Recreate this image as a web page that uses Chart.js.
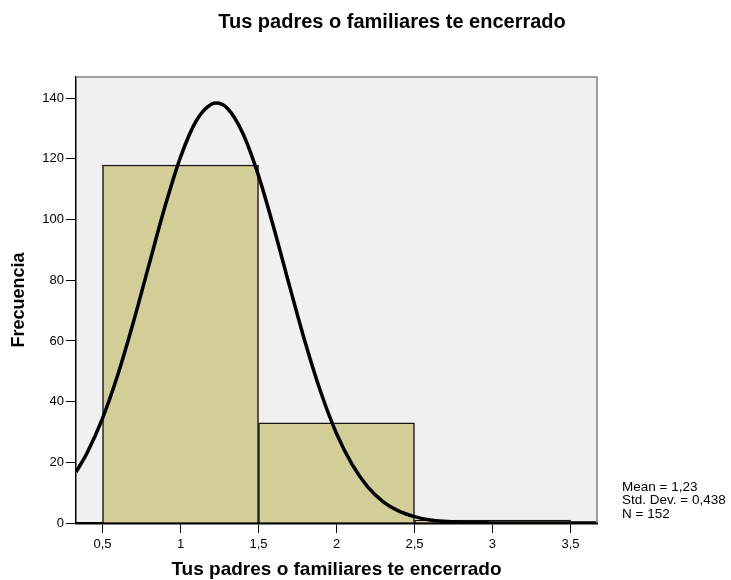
<!DOCTYPE html>
<html lang="es">
<head>
  <meta charset="UTF-8">
  <title>Tus padres o familiares te encerrado</title>
  <script src="https://cdn.jsdelivr.net/npm/chart.js"></script>
  <style>
    body {
      margin: 0;
      background-color: #ffffff;
    }
    #chart-box {
      width: 731px;
      height: 580px;
    }
  </style>
</head>
<body>
  <div id="chart-box">
    <canvas id="histogram" width="731" height="580"></canvas>
  </div>

  <script>
    // histograma: centros de clase y frecuencias
    const binCenters = [1, 2, 3];
    const binCounts = [118, 33, 1];

    // curva normal
    const curveX = [0.33, 0.4, 0.5, 0.6, 0.7, 0.8, 0.9, 1.0, 1.1, 1.2, 1.23, 1.3, 1.4, 1.5, 1.6, 1.7, 1.8, 1.9, 2.0, 2.1, 2.2, 2.3, 2.4, 2.5, 2.6, 2.8, 3.0, 3.3, 3.67];
    const curveY = [16.8, 23.0, 34.5, 49.2, 66.6, 85.5, 104.2, 120.6, 132.5, 138.1, 138.4, 136.7, 128.4, 114.5, 96.9, 77.9, 59.4, 43.0, 29.5, 19.3, 11.9, 7.0, 3.9, 2.1, 1.0, 0.2, 0.04, 0, 0];

    const xTickValues = [0.5, 1, 1.5, 2, 2.5, 3, 3.5];
    const xTickLabels = ['0,5', '1', '1,5', '2', '2,5', '3', '3,5'];
    const yTickValues = [0, 20, 40, 60, 80, 100, 120, 140];

    const chartTitle = 'Tus padres o familiares te encerrado';
    const xTitle = 'Tus padres o familiares te encerrado';
    const yTitle = 'Frecuencia';
    const statsLines = ['Mean = 1,23', 'Std. Dev. = 0,438', 'N = 152'];

    const FONT = "Arial, 'Liberation Sans', sans-serif";
    Chart.defaults.font.family = FONT;
    Chart.defaults.color = '#000';

    // fondo gris del área, marco superior/derecho, título y estadísticos
    const plotFrame = {
      id: 'plotFrame',
      beforeDraw(chart) {
        const { ctx, chartArea: a } = chart;
        ctx.save();
        ctx.fillStyle = '#f0f0f0';
        ctx.fillRect(a.left, a.top, a.right - a.left, a.bottom - a.top);
        ctx.restore();
      },
      afterDraw(chart) {
        const { ctx, chartArea: a } = chart;
        ctx.save();
        ctx.strokeStyle = '#808080';
        ctx.lineWidth = 1.5;
        ctx.beginPath();
        ctx.moveTo(a.left, a.top);
        ctx.lineTo(a.right, a.top);
        ctx.lineTo(a.right, a.bottom);
        ctx.stroke();

        ctx.fillStyle = '#000';
        ctx.font = 'bold 20px ' + FONT;
        ctx.textAlign = 'center';
        ctx.textBaseline = 'alphabetic';
        ctx.fillText(chartTitle, 392, 28);

        ctx.font = '13.5px ' + FONT;
        ctx.textAlign = 'left';
        ctx.textBaseline = 'middle';
        statsLines.forEach((line, i) => {
          ctx.fillText(line, 622, 487 + i * 13.5);
        });
        ctx.restore();
      }
    };

    new Chart(document.getElementById('histogram'), {
      type: 'bar',
      data: {
        datasets: [
          {
            type: 'line',
            data: curveX.map((x, i) => ({ x: x, y: curveY[i] })),
            borderColor: '#000',
            borderWidth: 3.5,
            pointRadius: 0,
            fill: false,
            cubicInterpolationMode: 'monotone',
            order: 0
          },
          {
            type: 'bar',
            data: binCenters.map((c, i) => ({ x: c, y: binCounts[i] })),
            backgroundColor: '#d3ce98',
            borderColor: '#141414',
            borderWidth: 1.5,
            barThickness: 'flex',
            barPercentage: 1,
            categoryPercentage: 1,
            order: 1
          }
        ]
      },
      options: {
        responsive: false,
        animation: false,
        layout: {
          padding: { left: 0, right: 134, top: 77, bottom: 0 }
        },
        plugins: {
          legend: { display: false },
          tooltip: { enabled: false },
          title: { display: false }
        },
        scales: {
          x: {
            type: 'linear',
            min: 0.33,
            max: 3.67,
            offset: false,
            afterBuildTicks: scale => {
              scale.ticks = xTickValues.map(v => ({ value: v }));
            },
            afterFit: scale => {
              scale.height = 57;
            },
            ticks: {
              autoSkip: false,
              maxRotation: 0,
              padding: 4,
              font: { size: 13 },
              callback: (value, index) => xTickLabels[index]
            },
            grid: {
              offset: false,
              drawOnChartArea: false,
              drawTicks: true,
              tickLength: 10,
              color: '#000',
              tickColor: '#000'
            },
            border: { display: true, color: '#000', width: 2.5 },
            title: {
              display: true,
              text: xTitle,
              font: { size: 19, weight: 'bold', lineHeight: 1.0 },
              padding: { top: 0, bottom: 1 }
            }
          },
          y: {
            min: 0,
            max: 147,
            afterBuildTicks: scale => {
              scale.ticks = yTickValues.map(v => ({ value: v }));
            },
            afterFit: scale => {
              scale.width = 76;
            },
            ticks: {
              padding: 2,
              font: { size: 13 }
            },
            grid: {
              drawOnChartArea: false,
              drawTicks: true,
              tickLength: 10,
              color: '#000',
              tickColor: '#000'
            },
            border: { display: true, color: '#000', width: 1.5 },
            title: {
              display: true,
              text: yTitle,
              font: { size: 18, weight: 'bold', lineHeight: 1.2 },
              padding: { top: 8, bottom: 0 }
            }
          }
        }
      },
      plugins: [plotFrame]
    });
  </script>
</body>
</html>
